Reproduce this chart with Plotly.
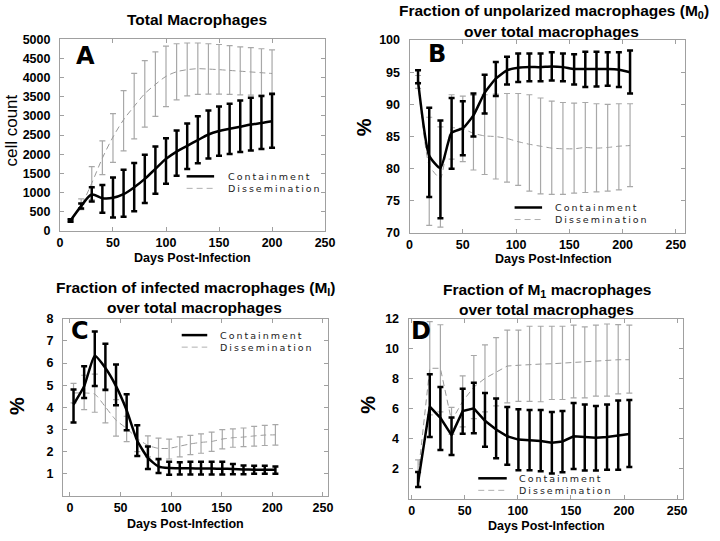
import plotly.graph_objects as go

# ---------------- data ----------------
a_days = [10, 20, 30, 40, 50, 60, 70, 80, 90, 100, 110, 120, 130, 140, 150, 160, 170, 180, 190, 200]
a_cont_mean = [275, 650, 950, 855, 865, 960, 1140, 1360, 1620, 1880, 2070, 2220, 2370, 2515, 2605, 2665, 2720, 2775, 2815, 2862]
a_cont_hi = [305, 715, 1140, 1200, 1395, 1595, 1770, 1990, 2200, 2420, 2620, 2805, 2990, 3140, 3245, 3320, 3400, 3470, 3520, 3575]
a_cont_lo = [245, 590, 770, 475, 350, 375, 515, 730, 975, 1230, 1440, 1615, 1765, 1890, 1960, 2010, 2060, 2100, 2140, 2170]
a_diss_mean = [275, 665, 1250, 1900, 2450, 2900, 3250, 3580, 3820, 4030, 4150, 4205, 4230, 4220, 4205, 4185, 4165, 4145, 4125, 4105]
a_diss_hi = [305, 840, 1680, 2350, 3060, 3660, 4110, 4440, 4670, 4820, 4880, 4900, 4900, 4880, 4860, 4830, 4800, 4780, 4750, 4720]
a_diss_lo = [245, 560, 820, 1470, 1790, 2090, 2400, 2710, 2990, 3240, 3420, 3520, 3560, 3570, 3570, 3560, 3550, 3540, 3540, 3540]

b_days = [8, 18.5, 29, 39.5, 50, 60, 70.5, 81, 91.5, 102, 112.5, 123, 133.5, 144, 154.5, 165, 175.5, 186, 196.5, 207]
b_cont_mean = [93.6, 82.0, 80.1, 85.6, 86.3, 88.3, 91.8, 94.0, 95.3, 95.7, 95.8, 95.8, 95.9, 95.8, 95.5, 95.5, 95.5, 95.5, 95.4, 95.0]
b_cont_hi = [95.3, 89.5, 87.5, 91.0, 90.5, 91.7, 94.6, 96.6, 97.4, 97.9, 97.9, 97.9, 98.1, 97.9, 97.8, 98.2, 98.2, 98.1, 98.1, 98.4]
b_cont_lo = [93.3, 75.6, 72.3, 80.0, 82.1, 85.0, 88.6, 91.3, 93.1, 93.5, 93.6, 93.6, 93.7, 93.6, 93.1, 92.7, 92.8, 92.9, 92.7, 91.7]
b_diss_mean = [93.4, 80.5, 78.5, 86.3, 86.2, 85.5, 85.1, 85.0, 84.7, 84.2, 83.8, 83.5, 83.2, 83.1, 83.1, 83.3, 83.2, 83.3, 83.5, 83.6]
b_diss_hi = [94.5, 88.0, 86.5, 91.5, 91.3, 91.4, 91.5, 91.6, 91.7, 91.7, 91.5, 91.0, 90.5, 90.3, 90.2, 90.3, 90.1, 90.0, 90.1, 90.1]
b_diss_lo = [92.5, 71.2, 70.9, 81.5, 81.1, 79.8, 79.1, 78.4, 77.9, 77.4, 76.5, 76.1, 76.0, 76.0, 76.2, 76.3, 76.4, 76.5, 76.7, 77.2]

c_days = [3.5, 14, 24.5, 35, 45.5, 56, 66.5, 77, 87.5, 98, 108.5, 119, 129.5, 140, 150.5, 161, 171.5, 182, 192.5, 203]
c_cont_mean = [4.13, 4.95, 6.33, 5.78, 4.96, 3.87, 2.49, 1.72, 1.33, 1.26, 1.25, 1.25, 1.24, 1.24, 1.23, 1.22, 1.20, 1.19, 1.18, 1.18]
c_cont_hi = [4.81, 5.86, 7.42, 6.87, 5.93, 4.59, 3.19, 2.23, 1.67, 1.55, 1.52, 1.55, 1.55, 1.55, 1.55, 1.45, 1.38, 1.36, 1.36, 1.33]
c_cont_lo = [3.32, 4.42, 4.96, 4.78, 4.09, 2.97, 1.80, 1.22, 1.04, 0.96, 0.97, 0.97, 0.97, 0.97, 0.97, 0.98, 0.98, 1.00, 1.00, 1.00]
c_diss_mean = [4.65, 4.65, 4.60, 4.02, 3.42, 3.05, 2.60, 2.28, 2.15, 2.15, 2.25, 2.35, 2.42, 2.46, 2.57, 2.63, 2.66, 2.71, 2.75, 2.76]
c_diss_hi = [5.08, 5.45, 5.50, 4.85, 4.35, 3.60, 3.20, 2.71, 2.61, 2.57, 2.67, 2.74, 2.80, 2.88, 3.00, 3.03, 3.07, 3.14, 3.19, 3.22]
c_diss_lo = [4.20, 3.90, 3.78, 3.30, 2.70, 2.45, 2.00, 1.77, 1.62, 1.67, 1.77, 1.87, 1.93, 2.01, 2.13, 2.20, 2.23, 2.25, 2.28, 2.30]

d_days = [6, 17, 27, 37.5, 48, 58.5, 69, 79.5, 90, 100.5, 111, 121.5, 132, 142, 152.5, 163, 173.5, 184, 194.5, 205]
d_cont_mean = [1.1, 6.15, 5.4, 4.25, 5.85, 6.03, 5.2, 4.62, 4.17, 3.95, 3.9, 3.86, 3.75, 3.83, 4.17, 4.1, 4.07, 4.12, 4.23, 4.33]
d_cont_hi = [1.8, 8.3, 7.45, 5.42, 7.33, 7.73, 7.05, 6.68, 6.12, 5.97, 5.92, 5.92, 5.79, 5.86, 6.38, 6.29, 6.18, 6.29, 6.55, 6.58]
d_cont_lo = [0.8, 4.12, 3.26, 2.93, 4.34, 4.38, 3.47, 2.71, 2.28, 1.91, 1.91, 1.84, 1.69, 1.78, 2.0, 1.89, 1.89, 1.95, 1.95, 2.13]
d_diss_mean = [1.6, 8.7, 8.7, 5.2, 6.5, 7.45, 8.03, 8.46, 8.85, 8.9, 8.96, 8.98, 9.0, 9.05, 9.07, 9.11, 9.18, 9.24, 9.27, 9.27]
d_diss_hi = [2.6, 11.8, 11.6, 6.1, 8.2, 9.55, 10.26, 10.74, 11.24, 11.24, 11.5, 11.5, 11.5, 11.5, 11.57, 11.46, 11.57, 11.65, 11.61, 11.57]
d_diss_lo = [0.8, 5.6, 5.8, 4.3, 4.8, 5.35, 5.8, 6.2, 6.4, 6.5, 6.5, 6.47, 6.62, 6.62, 6.73, 6.73, 6.84, 6.84, 6.99, 7.05]

x_ticks = [0, 50, 100, 150, 200, 250]
a_yticks = [0, 500, 1000, 1500, 2000, 2500, 3000, 3500, 4000, 4500, 5000]
b_yticks = [70, 75, 80, 85, 90, 95, 100]
c_yticks = [1, 2, 3, 4, 5, 6, 7, 8]
d_yticks = [2, 4, 6, 8, 10, 12]

titles = {
    "A": ["Total Macrophages"],
    "B": ["Fraction of unpolarized macrophages (M<sub>0</sub>)", "over total macrophages"],
    "C": ["Fraction of infected macrophages (M<sub>I</sub>)", "over total macrophages"],
    "D": ["Fraction of M<sub>1</sub> macrophages", "over total macrophages"],
}
series_names = ["Containment", "Dissemination"]
x_title = "Days Post-Infection"

# ---------------- layout helpers ----------------
W, H = 720, 541
FONT = "Liberation Sans, Arial, Helvetica, sans-serif"
def px(x):
    return x / W
def py(y):
    return 1 - y / H

BLACK = "#000000"
GREY = "#9a9a9a"

panels = [
    ("A", a_days, (a_cont_mean, a_cont_hi, a_cont_lo), (a_diss_mean, a_diss_hi, a_diss_lo),
     (58, 328, 33, 230), [0, 250], [0, 5000], a_yticks, "spline", 0.9),
    ("B", b_days, (b_cont_mean, b_cont_hi, b_cont_lo), (b_diss_mean, b_diss_hi, b_diss_lo),
     (414, 695, 34, 232), [0, 259], [70, 100], b_yticks, "spline", 0.5),
    ("C", c_days, (c_cont_mean, c_cont_hi, c_cont_lo), (c_diss_mean, c_diss_hi, c_diss_lo),
     (61, 331, 320, 502), [-7, 255], [0, 8], c_yticks, "spline", 0.5),
    ("D", d_days, (d_cont_mean, d_cont_hi, d_cont_lo), (d_diss_mean, d_diss_hi, d_diss_lo),
     (413, 693, 320, 505), [-3, 256], [0, 12], d_yticks, "linear", 0),
]

fig = go.Figure()
layout = dict(
    width=W, height=H, margin=dict(l=0, r=0, t=0, b=0),
    paper_bgcolor="white", plot_bgcolor="white", showlegend=False,
    font=dict(family=FONT, color="black"),
)
annotations = []
shapes = []

def err(mean, hi, lo):
    return [h - m for m, h in zip(mean, hi)], [m - l for m, l in zip(mean, lo)]

for i, (key, days, cont, diss, box, xr, yr, yt, lshape, smooth) in enumerate(panels):
    n = "" if i == 0 else str(i + 1)
    xa, ya = "x" + n, "y" + n
    x0, x1, y0, y1 = box
    axcommon = dict(showline=True, linecolor="#a0a0a0", linewidth=1, mirror="allticks",
                    ticks="inside", ticklen=4, tickcolor="#a0a0a0", showgrid=False,
                    zeroline=False, tickfont=dict(family=FONT, size=12.5, color="black", weight="bold"))
    layout["xaxis" + n] = dict(domain=[px(x0), px(x1)], range=xr, anchor=ya,
                                tickvals=x_ticks, **axcommon)
    layout["yaxis" + n] = dict(domain=[py(y1), py(y0)], range=yr, anchor=xa,
                                tickvals=yt, ticklabelstandoff=6, **axcommon)
    line_extra = dict(shape=lshape, smoothing=smooth) if lshape == "spline" else dict(shape="linear")
    up, dn = err(*diss)
    fig.add_trace(go.Scatter(
        x=days, y=diss[0], xaxis=xa, yaxis=ya, mode="lines", name=series_names[1],
        line=dict(color=GREY, width=1, dash="6px,4px", **line_extra),
        error_y=dict(type="data", symmetric=False, array=up, arrayminus=dn,
                     color="#a8a8a8", thickness=1.2, width=3),
    ))
    up, dn = err(*cont)
    fig.add_trace(go.Scatter(
        x=days, y=cont[0], xaxis=xa, yaxis=ya, mode="lines", name=series_names[0],
        line=dict(color=BLACK, width=2.5, **line_extra),
        error_y=dict(type="data", symmetric=False, array=up, arrayminus=dn,
                     color=BLACK, thickness=2.5, width=3),
    ))

# titles
title_pos = {
    "A": [(198, 13)],
    "B": [(561, 5), (559, 25)],
    "C": [(196, 289), (195, 308)],
    "D": [(554, 291), (554, 311)],
}
for key, lines in titles.items():
    for txt, (x, y) in zip(lines, title_pos[key]):
        annotations.append(dict(text=txt, x=px(x), y=py(y), xref="paper", yref="paper",
                                showarrow=False, xanchor="center", yanchor="middle",
                                font=dict(family=FONT, size=15.5, color="black", weight="bold")))

# panel letters
for key, (x, y) in {"A": (84, 50), "B": (442, 48), "C": (78, 333), "D": (426, 333)}.items():
    annotations.append(dict(text=key, x=px(x), y=py(y), xref="paper", yref="paper",
                            showarrow=False, xanchor="center", yanchor="middle",
                            font=dict(family="DejaVu Sans, Liberation Sans", size=24,
                                      color="black", weight="bold")))

# x axis titles
for (x, y) in [(193, 258), (561, 259), (186, 531), (554, 533)]:
    annotations.append(dict(text=x_title, x=px(x), y=py(y), xref="paper", yref="paper",
                            showarrow=False, xanchor="center", yanchor="middle",
                            font=dict(family=FONT, size=12.5, color="black", weight="bold")))

# y axis titles
annotations.append(dict(text="cell count", x=px(9), y=py(127), xref="paper", yref="paper",
                        showarrow=False, textangle=-90, xanchor="center", yanchor="middle",
                        font=dict(family=FONT, size=17, color="black")))
for (x, y) in [(367, 123), (15, 410), (372, 408)]:
    annotations.append(dict(text="%", x=px(x), y=py(y), xref="paper", yref="paper",
                            showarrow=False, textangle=-90, xanchor="center", yanchor="middle",
                            font=dict(family=FONT, size=20, color="black", weight="bold")))

# legends (line samples + labels)
LFS = 9.5
LS = 1.3 * LFS  # line spacing of a two-line annotation
legend_pos = {
    # sample x0, x1, y centre of the two rows, text x
    "A": (187, 215, 180, 227),
    "B": (521, 549, 212, 560),
    "C": (182, 208, 343, 219),
    "D": (484, 513, 490, 523),
}
for key, (sx0, sx1, yc, tx) in legend_pos.items():
    ya_, yb_ = yc - LS / 2, yc + LS / 2
    shapes.append(dict(type="line", xref="paper", yref="paper", x0=px(sx0), x1=px(sx1),
                       y0=py(ya_), y1=py(ya_), line=dict(color=BLACK, width=2.5)))
    shapes.append(dict(type="line", xref="paper", yref="paper", x0=px(sx0), x1=px(sx1),
                       y0=py(yb_), y1=py(yb_), line=dict(color="#b0b0b0", width=1, dash="6px,4px")))
    txt = "<br>".join('<span style="letter-spacing:2px">%s</span>' % s for s in series_names)
    annotations.append(dict(text=txt, x=px(tx), y=py(yc), xref="paper", yref="paper",
                            showarrow=False, xanchor="left", yanchor="middle", align="left",
                            font=dict(family="DejaVu Sans", size=LFS, color="#222")))

layout["annotations"] = annotations
layout["shapes"] = shapes
fig.update_layout(**layout)
fig.write_html("out.html", config={"displayModeBar": False, "responsive": False},
               post_script="document.body.style.margin='0px';")
